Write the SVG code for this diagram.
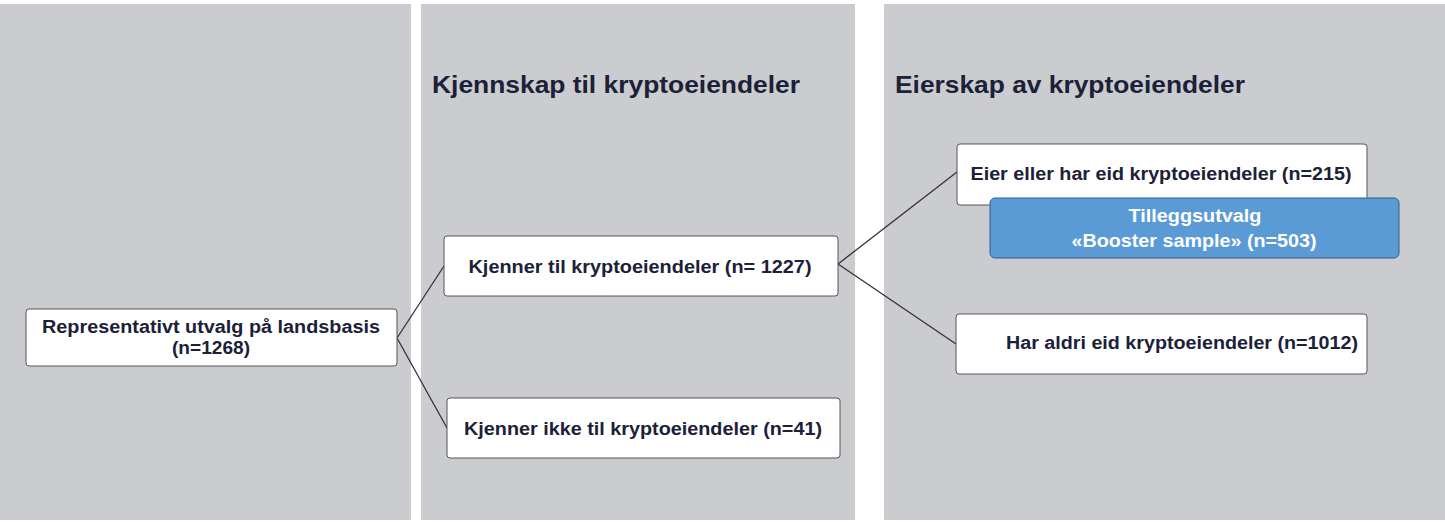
<svg xmlns="http://www.w3.org/2000/svg" width="1445" height="522" viewBox="0 0 1445 522">
<style>
.panel{fill:#cbcccf}
.box{fill:#fff;stroke:#555;stroke-width:1}
.t{font-family:"Liberation Sans",Arial,sans-serif;font-weight:bold;font-size:18px;fill:#1b2138;text-anchor:middle}
.h{font-family:"Liberation Sans",Arial,sans-serif;font-weight:bold;font-size:24px;fill:#1b2138}
.c{stroke:#333;stroke-width:1.3;fill:none}
</style>
<rect width="1445" height="522" fill="#fff"/>
<rect class="panel" x="0" y="4" width="411" height="516"/>
<rect class="panel" x="421" y="4" width="434" height="516"/>
<rect class="panel" x="884" y="4" width="561" height="516"/>
<text class="h" x="432" y="93" textLength="368" lengthAdjust="spacingAndGlyphs">Kjennskap til kryptoeiendeler</text>
<text class="h" x="895" y="93" textLength="350" lengthAdjust="spacingAndGlyphs">Eierskap av kryptoeiendeler</text>
<g id="connectors">
<path class="c" d="M397 338 L444 266 M397 338 L447 428 M838 264 L957 172 M838 264 L956 344"/>
</g>
<g id="n1"><rect class="box" x="26" y="309" width="371" height="57" rx="3"/><text class="t" x="211" y="333" textLength="338" lengthAdjust="spacingAndGlyphs">Representativt utvalg på landsbasis</text><text class="t" x="211" y="354" textLength="78" lengthAdjust="spacingAndGlyphs">(n=1268)</text></g>
<g id="n2"><rect class="box" x="444" y="236" width="394" height="60" rx="3"/><text class="t" x="640" y="273" textLength="343" lengthAdjust="spacingAndGlyphs">Kjenner til kryptoeiendeler (n= 1227)</text></g>
<g id="n3"><rect class="box" x="447" y="398" width="393" height="60" rx="3"/><text class="t" x="643" y="435" textLength="358" lengthAdjust="spacingAndGlyphs">Kjenner ikke til kryptoeiendeler (n=41)</text></g>
<g id="n4"><rect class="box" x="957" y="144" width="410" height="61" rx="3"/><text class="t" x="1161" y="180" textLength="381" lengthAdjust="spacingAndGlyphs">Eier eller har eid kryptoeiendeler (n=215)</text></g>
<g id="n5"><rect x="990" y="198" width="409" height="60" rx="5" fill="#5b9bd5" stroke="#2e5f8f"/><text class="t" x="1195" y="222" style="fill:#fff" textLength="133" lengthAdjust="spacingAndGlyphs">Tilleggsutvalg</text><text class="t" x="1194" y="247" style="fill:#fff" textLength="245" lengthAdjust="spacingAndGlyphs">«Booster sample» (n=503)</text></g>
<g id="n6"><rect class="box" x="956" y="314" width="411" height="60" rx="3"/><text class="t" x="1182" y="349" textLength="352" lengthAdjust="spacingAndGlyphs">Har aldri eid kryptoeiendeler (n=1012)</text></g>
</svg>
